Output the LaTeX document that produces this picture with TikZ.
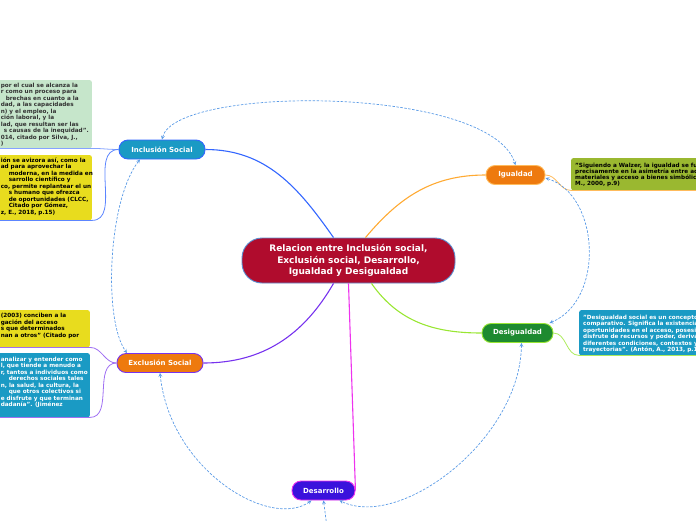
\documentclass[tikz,border=0pt]{standalone}
\usepackage{fontspec}
\setmainfont{DejaVu Sans}
\usepackage{xcolor}
\usepackage{tikz}
\definecolor{crimson}{HTML}{B00C2D}
\definecolor{rimblue}{HTML}{5B8FD0}
\definecolor{sea}{HTML}{1A9AC4}
\definecolor{tangerine}{HTML}{EE7A0E}
\definecolor{forest}{HTML}{1E8A30}
\definecolor{indigo}{HTML}{3A12DC}
\definecolor{royal}{HTML}{3366FF}
\definecolor{plum}{HTML}{7733EE}
\definecolor{apricot}{HTML}{FFAA33}
\definecolor{lime}{HTML}{99E633}
\definecolor{fuchsia}{HTML}{EE33EE}
\definecolor{sage}{HTML}{C6E6CB}
\definecolor{lemon}{HTML}{E8DC1E}
\definecolor{moss}{HTML}{9AB830}
\definecolor{linkblue}{HTML}{5B9BE6}

\begin{document}
\begin{tikzpicture}[x=1pt,y=-1pt,
  topic/.style={draw, line width=0.9pt, rounded corners=9pt, minimum height=19pt,
    text=white, font=\bfseries\fontsize{7}{8}\selectfont},
  notebox/.style={rounded corners=2pt, inner sep=0pt},
  notetext/.style={anchor=north west, inner sep=0pt, align=left,
    font=\bfseries\fontsize{5.7}{6.5}\selectfont},
  rel/.style={draw=linkblue, dash pattern=on 2.5pt off 1.5pt, line width=0.7pt, >=stealth},
  branch/.style={line width=1.1pt},
  twig/.style={line width=0.8pt}]
  \useasboundingbox (0,0) rectangle (696,520);
  \clip (0,0) rectangle (696,520);
  \node[topic, fill=crimson, draw=rimblue, minimum width=213pt, minimum height=45pt,
    rounded corners=20pt, align=center, font=\bfseries\fontsize{9}{11.5}\selectfont]
    (cen) at (348.5,260.5) {Relacion entre Inclusión social,\\Exclusión social, Desarrollo,\\Igualdad y Desigualdad};
  \node[topic, fill=sea, draw=royal, minimum width=86pt] (incl) at (162,149.5) {Inclusión Social};
  \node[topic, fill=tangerine, draw=plum, minimum width=86pt] (excl) at (160,363) {Exclusión Social};
  \node[topic, fill=tangerine, draw=apricot!80, minimum width=59pt] (igual) at (515.5,175) {Igualdad};
  \node[topic, fill=forest, draw=lime, minimum width=71pt] (desig) at (517.5,333) {Desigualdad};
  \node[topic, fill=indigo, draw=fuchsia, minimum width=63pt] (desa) at (323.5,490.5) {Desarrollo};

  \node[notebox, fill=sage, minimum width=98pt, minimum height=68pt, anchor=north east] (inclA) at (92,80) {};
  \node[notetext, text=black!80] (inclAtext) at ([xshift=7pt,yshift=-2.5pt]inclA.north west)
    {por el cual se alcanza la\\r como un proceso para\\\hspace*{5pt}brechas en cuanto a la\\dad, a las capacidades\\n) y el empleo, la\\ción laboral, y la\\lad, que resultan ser las\\\hspace*{3pt}s causas de la inequidad".\\014, citado por Silva, J.,\\)};
  \node[notebox, fill=lemon, minimum width=98pt, minimum height=65pt, anchor=north east] (inclB) at (92,155) {};
  \node[notetext, text=black] (inclBtext) at ([xshift=7pt,yshift=-2.5pt]inclB.north west)
    {ión se avizora así, como la\\ad para aprovechar la\\\hspace*{8pt}moderna, en la medida en\\\hspace*{8pt}sarrollo científico y\\co, permite replantear el un\\\hspace*{8pt}s humano que ofrezca\\\hspace*{8pt}de oportunidades (CLCC,\\\hspace*{8pt}Citado por Gómez,\\z, E., 2018, p.15)};
  \node[notebox, fill=lemon, minimum width=96pt, minimum height=37pt, anchor=north east] (exclA) at (90,310) {};
  \node[notetext, text=black] (exclAtext) at ([xshift=7pt,yshift=-3pt]exclA.north west)
    {(2003) conciben a la\\gación del acceso\\s que determinados\\nan a otros" (Citado por};
  \node[notebox, fill=sea, minimum width=96pt, minimum height=64pt, anchor=north east] (exclB) at (90,353) {};
  \node[notetext, text=white] (exclBtext) at ([xshift=7pt,yshift=-3.7pt]exclB.north west)
    {analizar y entender como\\l, que tiende a menudo a\\r, tantos a individuos como\\\hspace*{8pt}derechos sociales tales\\n, la salud, la cultura, la\\\hspace*{8pt}que otros colectivos si\\e disfrute y que terminan\\dadanía". (Jiménez};
  \node[notebox, fill=moss, minimum width=140pt, minimum height=32pt, anchor=north west] (igualN) at (571,158) {};
  \node[notetext, text=black, font=\bfseries\fontsize{5.7}{6}\selectfont] (igualNtext) at ([xshift=4pt,yshift=-4.5pt]igualN.north west)
    {"Siguiendo a Walzer, la igualdad se fun\\precisamente en la asimetría entre acce\\materiales y acceso a bienes simbólicos\\M., 2000, p.9)};
  \node[notebox, fill=sea, minimum width=130pt, minimum height=45pt, anchor=north west] (desigN) at (579,310) {};
  \node[notetext, text=white] (desigNtext) at ([xshift=4pt,yshift=-4.5pt]desigN.north west)
    {"Desigualdad social es un concepto r\\comparativo. Significa la existencia d\\oportunidades en el acceso, posesió\\disfrute de recursos y poder, derivad\\diferentes condiciones, contextos y\\trayectorias". (Antón, A., 2013, p.1)};

  \draw[branch, royal] ([xshift=-15pt]cen.north) to[out=125,in=0] (incl.east);
  \draw[branch, apricot] ([xshift=17pt]cen.north) to[out=50,in=180] (igual.west);
  \draw[branch, plum] ([xshift=-15pt]cen.south) to[out=-120,in=0] (excl.east);
  \draw[branch, lime] ([xshift=23pt]cen.south) to[out=-55,in=180] (desig.west);
  \draw[branch, fuchsia] (cen.south) -- (desa.east);

  \draw[twig, royal!60] (inclA.south west) -- (inclA.south east) to[out=0,in=180] (incl.west);
  \draw[twig, royal!80] (inclB.south west) -- (inclB.south east) to[out=0,in=180] (incl.west);
  \draw[twig, plum!70] (exclA.south west) -- (exclA.south east) to[out=0,in=180] (excl.west);
  \draw[twig, plum!70] (exclB.south west) -- (exclB.south east) to[out=0,in=180] (excl.west);
  \draw[twig, apricot!80] (igual.east) to[out=0,in=180] (igualN.south west) -- (igualN.south east);
  \draw[twig, lime!80] (desig.east) to[out=0,in=180] (desigN.south west) -- (desigN.south east);

  \draw[rel, <->] (incl.north) .. controls (175,85) and (490,85) .. (igual.north);
  \draw[rel, <->] ([xshift=-22pt]incl.south) .. controls (108,200) and (103,320) .. ([xshift=-33pt]excl.north);
  \draw[rel, <->] ([yshift=-3pt]igual.east) .. controls (600,195) and (605,300) .. ([xshift=-4pt]desig.north east);
  \draw[rel, <->] (excl.south) .. controls (170,470) and (270,530) .. ([xshift=-12pt]desa.south);
  \draw[rel, <->] ([xshift=4pt]desig.south) .. controls (520,440) and (400,530) .. ([xshift=16pt]desa.south);
  \coordinate (offpage) at (328,535);
  \draw[rel, <-] (desa.south) -- (offpage);
\end{tikzpicture}
\end{document}
